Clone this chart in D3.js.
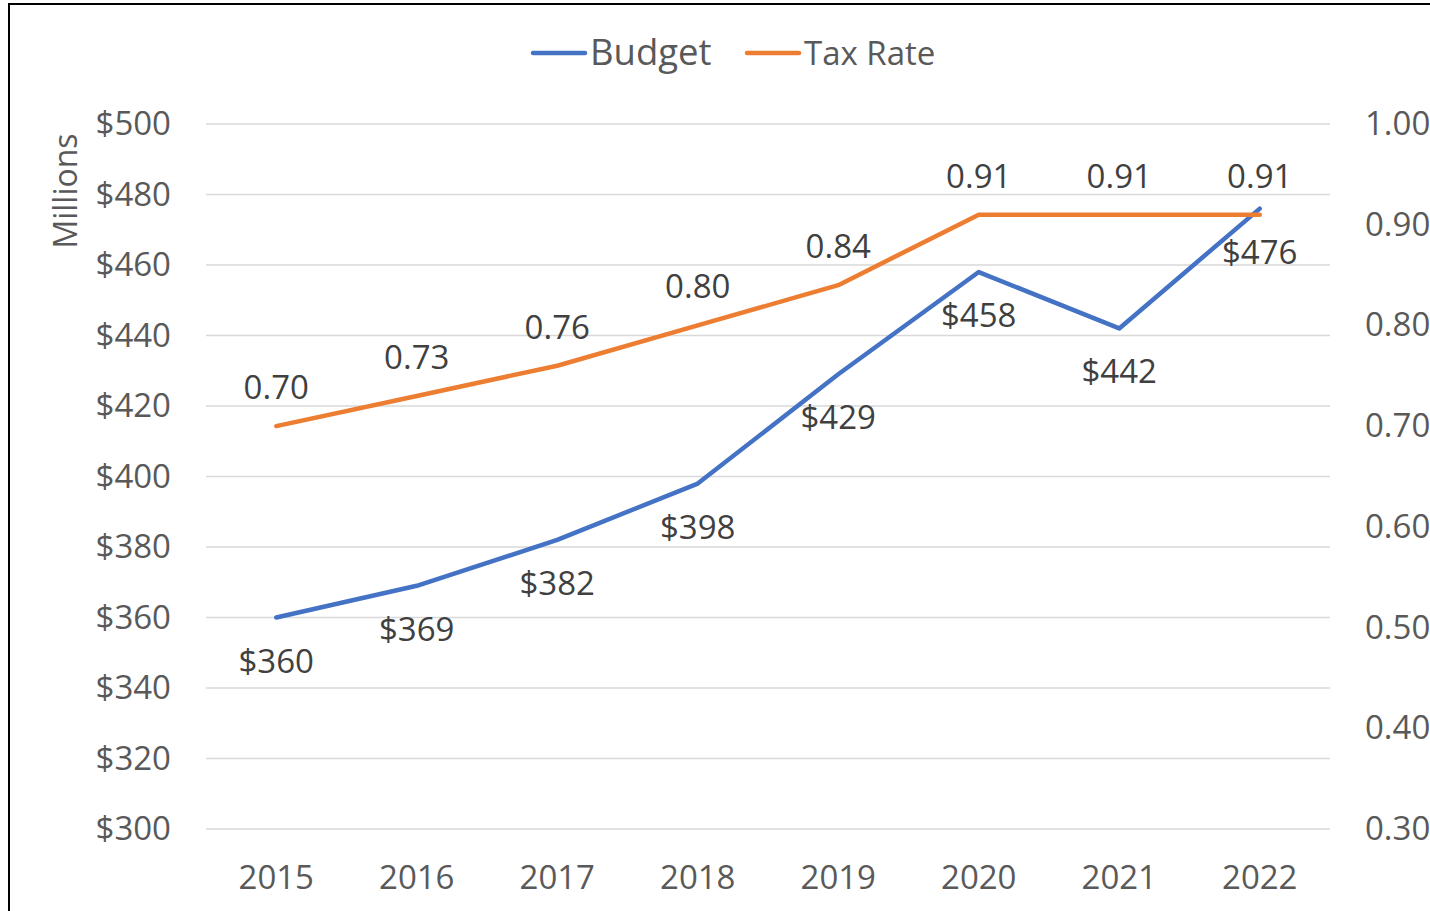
<!DOCTYPE html>
<html>
<head>
<meta charset="utf-8">
<script src="https://cdn.jsdelivr.net/npm/d3@7"></script>
<style>
  body { margin: 0; background: #fff; }
  svg { display: block; font-family: "Open Sans", sans-serif; }
</style>
</head>
<body>
<div id="chart"></div>
<script>
// Chart data
const years = ["2015", "2016", "2017", "2018", "2019", "2020", "2021", "2022"];
const budget = [360, 369, 382, 398, 429, 458, 442, 476];
const taxRate = [0.70, 0.73, 0.76, 0.80, 0.84, 0.91, 0.91, 0.91];
const leftTicks = [300, 320, 340, 360, 380, 400, 420, 440, 460, 480, 500];
const rightTicks = [0.30, 0.40, 0.50, 0.60, 0.70, 0.80, 0.90, 1.00];

const fullWidth = 1430, fullHeight = 911;
const plot = { left: 206, right: 1330, top: 124, bottom: 829 };
const textColor = "#595959";
const blue = "#4472c4", orange = "#ed7d31";

const svg = d3.select("#chart").append("svg")
    .attr("width", fullWidth)
    .attr("height", fullHeight);

// chart frame (runs off the right and bottom edges)
svg.append("rect")
    .attr("x", 9).attr("y", 4)
    .attr("width", fullWidth + 20).attr("height", fullHeight + 20)
    .attr("fill", "none").attr("stroke", "#000").attr("stroke-width", 2);

const x = d3.scaleBand().domain(years).range([plot.left, plot.right]);
const yL = d3.scaleLinear().domain([300, 500]).range([plot.bottom, plot.top]);
const yR = d3.scaleLinear().domain([0.3, 1.0]).range([plot.bottom, plot.top]);
const cx = d => x(d) + x.bandwidth() / 2;

// Gridlines
svg.append("g").selectAll("line")
    .data(leftTicks).join("line")
    .attr("x1", plot.left).attr("x2", plot.right)
    .attr("y1", d => yL(d)).attr("y2", d => yL(d))
    .attr("stroke", "#d9d9d9").attr("stroke-width", 1.5);

// Axes
const fs = "33px";
const leftAxis = svg.append("g")
    .attr("transform", `translate(${plot.left},0)`)
    .call(d3.axisLeft(yL).tickValues(leftTicks).tickFormat(d => "$" + d).tickSize(0).tickPadding(35));
const rightAxis = svg.append("g")
    .attr("transform", `translate(${plot.right},0)`)
    .call(d3.axisRight(yR).tickValues(rightTicks).tickFormat(d3.format(".2f")).tickSize(0).tickPadding(35));
const bottomAxis = svg.append("g")
    .attr("transform", `translate(0,${plot.bottom})`)
    .call(d3.axisBottom(x).tickSize(0).tickPadding(37));

[leftAxis, rightAxis, bottomAxis].forEach(axis => {
    axis.select(".domain").remove();
    axis.selectAll("text")
        .style("font-family", "Open Sans")
        .style("font-size", fs)
        .style("fill", textColor);
});

// Axis title
svg.append("text")
    .attr("transform", "rotate(-90)")
    .attr("x", -191).attr("y", 77)
    .attr("text-anchor", "middle")
    .style("font-size", "32px").style("fill", textColor)
    .text("Millions");

// Lines
const budgetLine = d3.line().x((d, i) => cx(years[i])).y(d => yL(d));
const taxLine = d3.line().x((d, i) => cx(years[i])).y(d => yR(d));

svg.append("path").datum(budget)
    .attr("d", budgetLine).attr("fill", "none")
    .attr("stroke", blue).attr("stroke-width", 4.5)
    .attr("stroke-linecap", "round").attr("stroke-linejoin", "round");

svg.append("path").datum(taxRate)
    .attr("d", taxLine).attr("fill", "none")
    .attr("stroke", orange).attr("stroke-width", 4.5)
    .attr("stroke-linecap", "round").attr("stroke-linejoin", "round");

// Data labels
svg.append("g").selectAll("text")
    .data(budget).join("text")
    .attr("x", (d, i) => cx(years[i]))
    .attr("y", d => yL(d) + 55)
    .attr("text-anchor", "middle")
    .style("font-size", fs).style("fill", "#404040")
    .text(d => "$" + d);

svg.append("g").selectAll("text")
    .data(taxRate).join("text")
    .attr("x", (d, i) => cx(years[i]))
    .attr("y", d => yR(d) - 27)
    .attr("text-anchor", "middle")
    .style("font-size", fs).style("fill", "#404040")
    .text(d => d3.format(".2f")(d));

// Legend
const legendItems = [
    { name: "Budget", color: blue, x: 533, size: "36.5px" },
    { name: "Tax Rate", color: orange, x: 747, size: "33px" }
];
const legend = svg.append("g").selectAll("g")
    .data(legendItems).join("g")
    .attr("transform", d => `translate(${d.x},53)`);
legend.append("line")
    .attr("x1", 0).attr("x2", 52)
    .attr("stroke", d => d.color).attr("stroke-width", 4.5)
    .attr("stroke-linecap", "round");
legend.append("text")
    .attr("x", 57).attr("y", 12)
    .style("font-size", d => d.size).style("fill", textColor)
    .text(d => d.name);
</script>
</body>
</html>
